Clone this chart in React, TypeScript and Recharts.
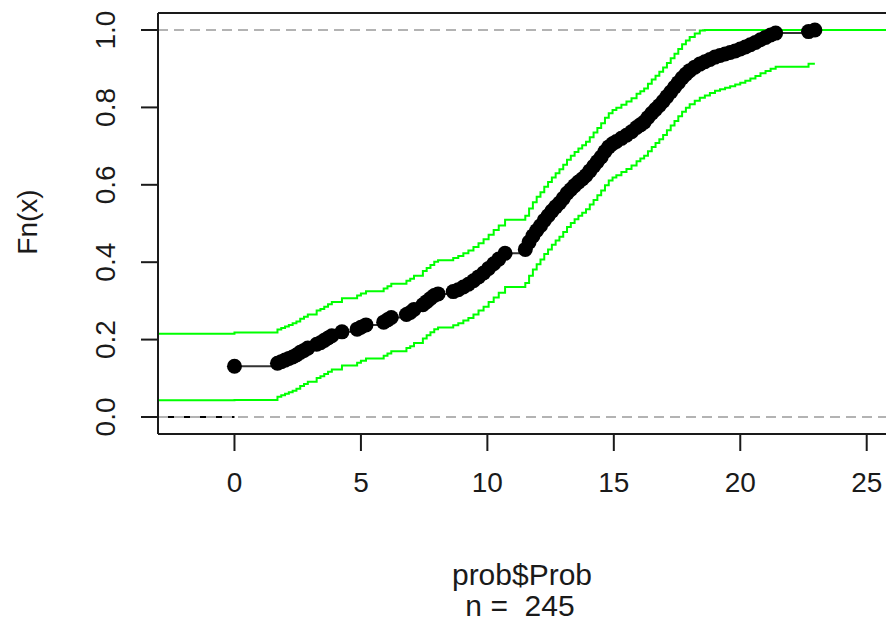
import { ComposedChart, Line, XAxis, YAxis, ReferenceLine } from 'recharts'

const ecdfX = [
  0, 1.7, 1.85, 2.0, 2.15, 2.3, 2.45, 2.6, 2.75, 2.9,
  3.25, 3.4, 3.55, 3.7, 3.85, 4.25, 4.85, 5.0, 5.2, 5.9,
  6.05, 6.2, 6.8, 6.95, 7.1, 7.45, 7.6, 7.75, 7.9, 8.05,
  8.65, 8.85, 9.05, 9.25, 9.45, 9.65, 9.85, 10.05, 10.25, 10.45,
  10.7, 11.5, 11.65, 11.8, 11.95, 12.1, 12.25, 12.4, 12.55, 12.7,
  12.85, 13.0, 13.15, 13.3, 13.45, 13.6, 13.75, 13.9, 14.05, 14.2,
  14.35, 14.5, 14.65, 14.8, 14.95, 15.1, 15.3, 15.5, 15.7, 15.9,
  16.05, 16.2, 16.35, 16.5, 16.65, 16.8, 16.95, 17.1, 17.25, 17.4,
  17.55, 17.7, 17.85, 18.0, 18.2, 18.4, 18.6, 18.8, 19.0, 19.2,
  19.4, 19.6, 19.8, 20.0, 20.2, 20.4, 20.6, 20.8, 21.0, 21.2,
  21.4, 22.7, 22.95,
]
const ecdfY = [
  0.131, 0.139, 0.143, 0.147, 0.151, 0.155, 0.160, 0.167, 0.172, 0.178,
  0.188, 0.192, 0.198, 0.204, 0.210, 0.220, 0.227, 0.232, 0.238, 0.245,
  0.251, 0.257, 0.265, 0.270, 0.278, 0.290, 0.298, 0.306, 0.314, 0.318,
  0.324, 0.329, 0.336, 0.343, 0.352, 0.362, 0.372, 0.384, 0.396, 0.408,
  0.423, 0.433, 0.452, 0.468, 0.482, 0.494, 0.508, 0.520, 0.532, 0.543,
  0.553, 0.565, 0.578, 0.588, 0.598, 0.607, 0.615, 0.624, 0.636, 0.648,
  0.660, 0.672, 0.686, 0.698, 0.706, 0.712, 0.720, 0.728, 0.737, 0.748,
  0.755, 0.762, 0.774, 0.785, 0.795, 0.805, 0.816, 0.828, 0.840, 0.852,
  0.864, 0.876, 0.886, 0.895, 0.904, 0.912, 0.918, 0.924, 0.930, 0.934,
  0.938, 0.942, 0.946, 0.951, 0.956, 0.962, 0.968, 0.975, 0.981, 0.987,
  0.992, 0.996, 1.0,
]
// confidence band: value left of 0, then one per ecdf point, (upper) then right edge
const upperBand = [
  0.215,
  0.218, 0.226, 0.230, 0.234, 0.238, 0.242, 0.247, 0.254, 0.259, 0.265,
  0.275, 0.279, 0.285, 0.291, 0.297, 0.307, 0.314, 0.319, 0.325, 0.332,
  0.338, 0.344, 0.352, 0.357, 0.365, 0.377, 0.385, 0.393, 0.401, 0.405,
  0.411, 0.416, 0.423, 0.430, 0.439, 0.449, 0.459, 0.471, 0.483, 0.495,
  0.510, 0.520, 0.539, 0.555, 0.569, 0.581, 0.595, 0.607, 0.619, 0.630,
  0.640, 0.652, 0.665, 0.675, 0.685, 0.694, 0.702, 0.711, 0.723, 0.735,
  0.747, 0.759, 0.773, 0.785, 0.793, 0.799, 0.807, 0.815, 0.824, 0.835,
  0.842, 0.849, 0.861, 0.872, 0.882, 0.892, 0.903, 0.915, 0.927, 0.939,
  0.951, 0.963, 0.973, 0.982, 0.991, 0.999, 1, 1, 1, 1,
  1, 1, 1, 1, 1, 1, 1, 1, 1, 1,
  1, 1, 1,
  1,
]
const lowerBand = [
  0.043,
  0.044, 0.052, 0.056, 0.060, 0.064, 0.068, 0.073, 0.080, 0.085, 0.091,
  0.101, 0.105, 0.111, 0.117, 0.123, 0.133, 0.140, 0.145, 0.151, 0.158,
  0.164, 0.170, 0.178, 0.183, 0.191, 0.203, 0.211, 0.219, 0.227, 0.231,
  0.237, 0.242, 0.249, 0.256, 0.265, 0.275, 0.285, 0.297, 0.309, 0.321,
  0.336, 0.346, 0.365, 0.381, 0.395, 0.407, 0.421, 0.433, 0.445, 0.456,
  0.466, 0.478, 0.491, 0.501, 0.511, 0.520, 0.528, 0.537, 0.549, 0.561,
  0.573, 0.585, 0.599, 0.611, 0.619, 0.625, 0.633, 0.641, 0.650, 0.661,
  0.668, 0.675, 0.687, 0.698, 0.708, 0.718, 0.729, 0.741, 0.753, 0.765,
  0.777, 0.789, 0.799, 0.808, 0.817, 0.825, 0.831, 0.837, 0.843, 0.847,
  0.851, 0.855, 0.859, 0.864, 0.869, 0.875, 0.881, 0.888, 0.894, 0.900,
  0.905, 0.913, 0.913,
]
const xTicks = [0, 5, 10, 15, 20, 25]
const yTicks = [0, 0.2, 0.4, 0.6, 0.8, 1.0]

const X_MIN = -3.024
const X_MAX = 26
const Y_MIN = -0.044
const Y_MAX = 1.044

const FONT = '"Liberation Sans", Arial, sans-serif'
const FONT_SIZE = 28
const INK = '#1a1a1a'

type Row = {
  x: number
  fn?: number
  upper?: number
  lower?: number
  zero?: number
  one?: number
  left?: number
  right?: number
}

const last = ecdfX.length - 1
const rows: Row[] = [
  { x: X_MIN, upper: upperBand[0], lower: lowerBand[0], zero: 0, one: 1, left: 0 },
  ...ecdfX.map((x, i) => ({
    x,
    fn: ecdfY[i],
    upper: upperBand[i + 1],
    lower: lowerBand[i + 1],
    left: i === 0 ? 0 : undefined,
    right: i === last ? ecdfY[last] : undefined,
  })),
  { x: X_MAX, upper: upperBand[upperBand.length - 1], zero: 0, one: 1, right: ecdfY[last] },
]

function XTick({ x, payload }: any) {
  return (
    <text x={x} y={492} textAnchor="middle" fontSize={FONT_SIZE} fontFamily={FONT} fill={INK}>
      {payload.value}
    </text>
  )
}

function YTick({ y, payload }: any) {
  return (
    <text
      transform={`translate(115, ${y}) rotate(-90)`}
      textAnchor="middle"
      fontSize={FONT_SIZE}
      fontFamily={FONT}
      fill={INK}
    >
      {Number(payload.value).toFixed(1)}
    </text>
  )
}

function Dot({ cx, cy, index }: any) {
  if (cx == null || cy == null) return <g key={`d${index}`} />
  return <circle key={`d${index}`} cx={cx} cy={cy} r={7.5} fill="#000" />
}

const textStyle = {
  position: 'absolute' as const,
  fontFamily: FONT,
  fontSize: 30,
  color: INK,
  whiteSpace: 'pre' as const,
  lineHeight: 1,
  transform: 'translate(-50%, -50%)',
}

export default function App() {
  return (
    <div
      style={{
        position: 'fixed',
        left: 0,
        top: 0,
        width: 886,
        height: 625,
        overflow: 'hidden',
        background: '#fff',
      }}
    >
      <ComposedChart
        width={900}
        height={625}
        data={rows}
        margin={{ top: 13, right: 8, left: 0, bottom: 0 }}
      >
        <XAxis
          dataKey="x"
          type="number"
          domain={[X_MIN, X_MAX]}
          allowDataOverflow
          ticks={xTicks}
          tick={<XTick />}
          tickSize={17}
          tickLine={{ stroke: INK, strokeWidth: 2 }}
          axisLine={{ stroke: INK, strokeWidth: 2 }}
          height={191}
          interval={0}
        />
        <YAxis
          type="number"
          domain={[Y_MIN, Y_MAX]}
          allowDataOverflow
          ticks={yTicks}
          tick={<YTick />}
          tickSize={17}
          tickLine={{ stroke: INK, strokeWidth: 2 }}
          axisLine={{ stroke: INK, strokeWidth: 2 }}
          width={158}
          interval={0}
        />
        <ReferenceLine y={Y_MAX} stroke={INK} strokeWidth={2} />
        <Line dataKey="left" stroke="#000" strokeWidth={2} dot={false} activeDot={false} connectNulls isAnimationActive={false} />
        <Line dataKey="right" stroke="#000" strokeWidth={2} dot={false} activeDot={false} connectNulls isAnimationActive={false} />
        <Line
          dataKey="fn"
          type="stepAfter"
          stroke="#333"
          strokeWidth={2}
          dot={<Dot />}
          activeDot={false}
          isAnimationActive={false}
        />
        <Line dataKey="zero" stroke="#b3b3b3" strokeWidth={2} strokeDasharray="10 6" dot={false} activeDot={false} connectNulls isAnimationActive={false} />
        <Line dataKey="one" stroke="#b3b3b3" strokeWidth={2} strokeDasharray="10 6" dot={false} activeDot={false} connectNulls isAnimationActive={false} />
        <Line dataKey="upper" type="stepAfter" stroke="#00ff00" strokeWidth={2} dot={false} activeDot={false} connectNulls isAnimationActive={false} />
        <Line dataKey="lower" type="stepAfter" stroke="#00ff00" strokeWidth={2} dot={false} activeDot={false} isAnimationActive={false} />
      </ComposedChart>
      <div style={{ ...textStyle, fontSize: FONT_SIZE, left: 28, top: 222, transform: 'translate(-50%, -50%) rotate(-90deg)' }}>Fn(x)</div>
      <div style={{ ...textStyle, left: 522, top: 575 }}>prob$Prob</div>
      <div style={{ ...textStyle, left: 520, top: 606 }}>n =  245</div>
    </div>
  )
}
